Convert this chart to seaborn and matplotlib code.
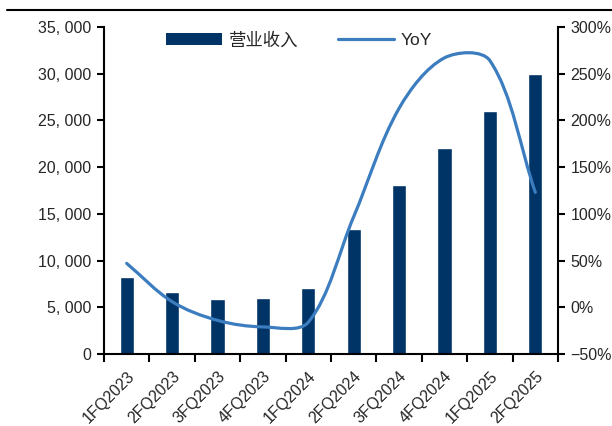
import numpy as np
import pandas as pd
import matplotlib
matplotlib.use("Agg")
import matplotlib.pyplot as plt
import seaborn as sns
from matplotlib.path import Path
from matplotlib.patches import PathPatch, Patch
from matplotlib.lines import Line2D
from matplotlib.ticker import FuncFormatter

# Quarterly revenue and year-over-year growth
quarters = ["1FQ2023", "2FQ2023", "3FQ2023", "4FQ2023", "1FQ2024",
            "2FQ2024", "3FQ2024", "4FQ2024", "1FQ2025", "2FQ2025"]
revenue = [8200, 6600, 5900, 6000, 7100, 13400, 18100, 22100, 26000, 30000]
yoy = [47, 6, -14, -21, -16, 97, 213, 267, 264, 123]

rev_ticks = list(range(0, 35001, 5000))
yoy_ticks = list(range(-50, 301, 50))

BAR_COLOR = "#003366"
LINE_COLOR = "#3b7dbf"
FS = 11.5

sns.set_theme(style="ticks")
plt.rcParams["font.family"] = ["Liberation Sans", "Noto Sans CJK SC"]

W, H = 612, 426
fig = plt.figure(figsize=(W / 100, H / 100), dpi=100)
ax = fig.add_axes([104 / W, 1 - 354 / H, 454 / W, 327 / H])

df = pd.DataFrame({"quarter": quarters, "revenue": revenue, "yoy": yoy})
sns.barplot(data=df, x="quarter", y="revenue", color=BAR_COLOR,
            saturation=1, width=0.31, ax=ax)
ax.set_xlim(-0.5, len(quarters) - 0.5)
ax.set_ylim(rev_ticks[0], rev_ticks[-1])
ax.set_xlabel("")
ax.set_ylabel("")

# major ticks sit between categories, labels sit under the bars
ax.set_xticks(np.arange(-0.5, len(quarters), 1.0))
ax.set_xticklabels([])
ax.set_xticks(np.arange(len(quarters)), minor=True)
ax.set_xticklabels(quarters, minor=True, rotation=45, ha="right",
                   rotation_mode="anchor", fontsize=FS)
ax.tick_params(axis="x", which="major", length=6, width=1.5, color="black",
               direction="out")
ax.tick_params(axis="x", which="minor", length=0, pad=10.5)

ax.set_yticks(rev_ticks)
ax.yaxis.set_major_formatter(FuncFormatter(
    lambda v, _: f"{int(v):,}".replace(",", ", ")))
ax.tick_params(axis="y", length=5, width=1.5, color="black", labelsize=FS, pad=4)

for side in ["top", "right"]:
    ax.spines[side].set_visible(False)
for side in ["left", "bottom"]:
    ax.spines[side].set_linewidth(1.5)
    ax.spines[side].set_color("black")

ax2 = ax.twinx()
ax2.set_ylim(yoy_ticks[0], yoy_ticks[-1])
ax2.set_yticks(yoy_ticks)
ax2.yaxis.set_major_formatter(FuncFormatter(
    lambda v, _: f"{int(v)}%".replace("-", "\u2212")))
ax2.tick_params(axis="y", length=5, width=1.5, color="black", labelsize=FS, pad=4)
for side in ["top", "left", "bottom"]:
    ax2.spines[side].set_visible(False)
ax2.spines["right"].set_linewidth(1.5)
ax2.spines["right"].set_color("black")


def smooth_path(xs, ys, axis):
    """Smoothed cubic Bezier path through the points, in data coordinates."""
    pts = axis.transData.transform(np.column_stack([xs, ys]))
    n = len(pts)
    verts = [pts[0]]
    codes = [Path.MOVETO]
    for i in range(n - 1):
        p0 = pts[i - 1] if i > 0 else pts[i]
        p1 = pts[i]
        p2 = pts[i + 1]
        p3 = pts[i + 2] if i + 2 < n else pts[i + 1]
        l01 = np.hypot(*(p1 - p0))
        l12 = np.hypot(*(p2 - p1))
        l23 = np.hypot(*(p3 - p2))
        c1 = p1 + (p2 - p0) * (l12 / (l01 + l12)) / 3
        c2 = p2 - (p3 - p1) * (l12 / (l12 + l23)) / 3
        verts += [c1, c2, p2]
        codes += [Path.CURVE4] * 3
    verts = axis.transData.inverted().transform(np.array(verts))
    return Path(verts, codes)


ax2.add_patch(PathPatch(smooth_path(np.arange(len(yoy)), yoy, ax2),
                        fill=False, edgecolor=LINE_COLOR, linewidth=2.3,
                        capstyle="round", joinstyle="round"))

handles = [Patch(facecolor=BAR_COLOR, edgecolor="none"),
           Line2D([], [], color=LINE_COLOR, linewidth=2.3)]
ax2.legend(handles, ["营业收入", "YoY"], loc="center",
           bbox_to_anchor=(0.43, 0.96), ncol=2, frameon=False,
           handlelength=3.2, handleheight=0.7, columnspacing=2.3,
           handletextpad=0.4, fontsize=12.5)

fig.add_artist(Line2D([7 / W, 1.0], [1 - 10 / H, 1 - 10 / H],
                      transform=fig.transFigure, color="black", linewidth=1.5))

fig.savefig("out.png", dpi=100)
